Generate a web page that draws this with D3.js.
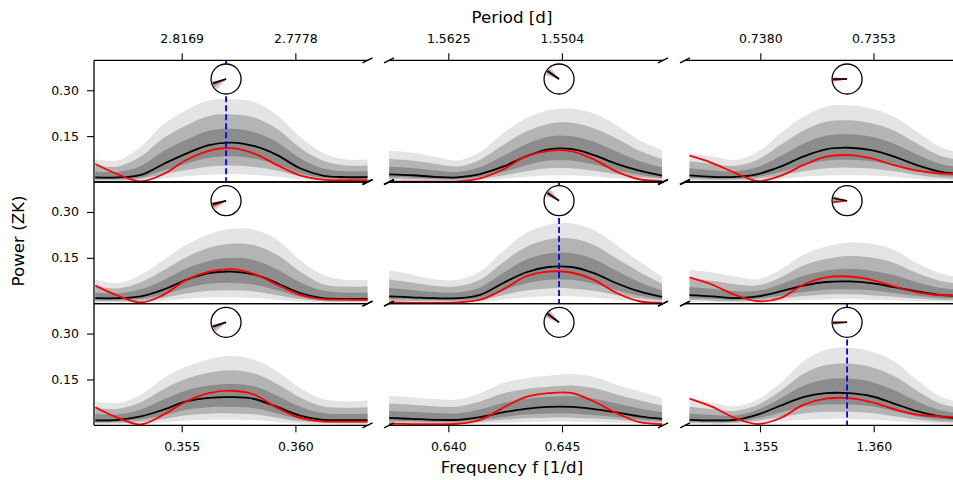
<!DOCTYPE html>
<html>
<head>
<meta charset="utf-8">
<script src="https://cdn.jsdelivr.net/npm/d3@7"></script>
<style>
  body { margin: 0; background: #fff; }
  svg { display: block; }
  text { font-family: "DejaVu Sans", sans-serif; fill: #000; }
</style>
</head>
<body>
<svg id="chart" width="953" height="480"></svg>
<script>
// Frequency grid [1/d] of each column (three zoomed windows around the candidate peaks)
const freqGrid = [
  [0.3512, 0.3522, 0.3532, 0.3542, 0.3552, 0.3562, 0.3572, 0.3582, 0.3592, 0.3602, 0.3612, 0.3622, 0.3632],
  [0.6374, 0.6384, 0.6394, 0.6404, 0.6414, 0.6424, 0.6434, 0.6444, 0.6454, 0.6464, 0.6474, 0.6484, 0.6494],
  [1.3519, 1.3529, 1.3539, 1.3549, 1.3559, 1.3569, 1.3579, 1.3589, 1.3599, 1.3609, 1.3619, 1.3629, 1.3639]
];
const xLimits = [[0.351143, 0.363170], [0.637392, 0.649441], [1.351702, 1.363751]];
const freqTicks = [[0.355, 0.360], [0.640, 0.645], [1.355, 1.360]];
const periodTicks = [[2.8169, 2.7778], [1.5625, 1.5504], [0.7380, 0.7353]];
const powerTicks = [0.15, 0.30];
const powerMax = 0.398;

// Peak frequency per column; which column is flagged (dashed) in each row
const peakFreq = [0.35695, 0.64487, 1.35883];
const flaggedCol = [0, 1, 2];

// Panels in reading order: row 1 (c1,c2,c3), row 2, row 3
const medianPower = [
  [0.015,0.015,0.023,0.059,0.093,0.121,0.129,0.117,0.088,0.045,0.021,0.016,0.016],
  [0.025,0.022,0.017,0.015,0.026,0.050,0.083,0.107,0.108,0.088,0.059,0.037,0.021],
  [0.022,0.017,0.017,0.026,0.050,0.083,0.107,0.112,0.104,0.083,0.055,0.034,0.026],
  [0.018,0.018,0.024,0.046,0.078,0.100,0.105,0.095,0.067,0.035,0.018,0.016,0.016],
  [0.024,0.021,0.018,0.018,0.029,0.067,0.102,0.120,0.120,0.100,0.067,0.040,0.022],
  [0.028,0.024,0.018,0.024,0.040,0.059,0.071,0.073,0.067,0.054,0.040,0.029,0.026],
  [0.016,0.018,0.029,0.051,0.078,0.090,0.092,0.086,0.060,0.032,0.018,0.017,0.017],
  [0.024,0.021,0.018,0.018,0.027,0.042,0.054,0.060,0.060,0.053,0.042,0.029,0.021],
  [0.018,0.016,0.018,0.035,0.064,0.092,0.105,0.105,0.095,0.071,0.046,0.029,0.022]
];
const observedPower = [
  [0.059,0.025,0.002,0.026,0.072,0.102,0.111,0.093,0.055,0.022,0.008,0.006,0.006],
  [0.001,0.001,0.001,0.002,0.012,0.041,0.083,0.102,0.101,0.074,0.034,0.009,0.003],
  [0.086,0.062,0.030,0.003,0.020,0.055,0.083,0.088,0.077,0.055,0.037,0.028,0.026],
  [0.059,0.026,0.004,0.029,0.078,0.105,0.113,0.097,0.062,0.029,0.015,0.013,0.013],
  [0.004,0.003,0.003,0.004,0.013,0.046,0.089,0.105,0.102,0.078,0.035,0.008,0.003],
  [0.086,0.062,0.029,0.008,0.018,0.062,0.086,0.089,0.078,0.057,0.037,0.028,0.026],
  [0.059,0.024,0.003,0.035,0.078,0.105,0.113,0.100,0.057,0.024,0.013,0.012,0.012],
  [0.005,0.004,0.004,0.005,0.018,0.057,0.092,0.105,0.106,0.078,0.040,0.010,0.004],
  [0.087,0.060,0.024,0.004,0.024,0.067,0.087,0.089,0.076,0.053,0.035,0.029,0.027]
];
// Simulated power quantile bands (outer / middle / inner)
const hi3 = [
  [0.074,0.070,0.115,0.189,0.235,0.267,0.271,0.262,0.218,0.148,0.096,0.074,0.074],
  [0.102,0.096,0.083,0.070,0.099,0.159,0.208,0.235,0.240,0.224,0.186,0.137,0.104],
  [0.093,0.083,0.072,0.099,0.159,0.213,0.246,0.251,0.240,0.213,0.164,0.115,0.093],
  [0.078,0.067,0.095,0.143,0.192,0.227,0.245,0.242,0.209,0.143,0.095,0.078,0.078],
  [0.109,0.095,0.080,0.078,0.105,0.171,0.230,0.258,0.263,0.241,0.192,0.138,0.089],
  [0.111,0.102,0.089,0.080,0.111,0.160,0.187,0.200,0.196,0.176,0.133,0.100,0.084],
  [0.078,0.073,0.100,0.154,0.192,0.216,0.227,0.214,0.176,0.122,0.086,0.078,0.082],
  [0.097,0.092,0.086,0.084,0.105,0.138,0.154,0.162,0.168,0.158,0.133,0.111,0.089],
  [0.084,0.073,0.062,0.084,0.138,0.209,0.247,0.254,0.241,0.209,0.149,0.095,0.073]
];
const hi2 = [
  [0.053,0.051,0.083,0.144,0.185,0.216,0.221,0.211,0.173,0.112,0.070,0.054,0.054],
  [0.075,0.070,0.060,0.051,0.073,0.121,0.164,0.190,0.194,0.176,0.142,0.102,0.075],
  [0.068,0.060,0.053,0.073,0.121,0.168,0.197,0.202,0.192,0.168,0.126,0.087,0.070],
  [0.057,0.050,0.070,0.109,0.152,0.183,0.196,0.191,0.159,0.105,0.064,0.056,0.056],
  [0.079,0.069,0.058,0.057,0.078,0.135,0.185,0.210,0.213,0.192,0.148,0.104,0.066],
  [0.082,0.075,0.064,0.060,0.086,0.125,0.146,0.156,0.151,0.133,0.100,0.075,0.064],
  [0.056,0.054,0.075,0.118,0.152,0.172,0.180,0.169,0.135,0.091,0.062,0.057,0.059],
  [0.071,0.067,0.062,0.061,0.078,0.104,0.119,0.126,0.130,0.121,0.101,0.082,0.065],
  [0.061,0.053,0.047,0.067,0.112,0.168,0.197,0.202,0.190,0.161,0.113,0.072,0.055]
];
const hi1 = [
  [0.034,0.033,0.052,0.101,0.138,0.168,0.174,0.163,0.130,0.078,0.045,0.035,0.035],
  [0.050,0.046,0.038,0.033,0.049,0.085,0.123,0.148,0.150,0.132,0.100,0.069,0.048],
  [0.045,0.038,0.035,0.049,0.085,0.125,0.151,0.156,0.148,0.125,0.090,0.060,0.047],
  [0.037,0.034,0.047,0.077,0.115,0.140,0.150,0.142,0.112,0.070,0.043,0.036,0.036],
  [0.051,0.045,0.038,0.037,0.053,0.100,0.143,0.164,0.166,0.145,0.107,0.071,0.043],
  [0.055,0.049,0.041,0.042,0.063,0.091,0.108,0.114,0.108,0.093,0.070,0.052,0.045],
  [0.036,0.036,0.052,0.084,0.114,0.130,0.135,0.127,0.097,0.061,0.040,0.037,0.038],
  [0.047,0.044,0.040,0.039,0.052,0.073,0.086,0.093,0.095,0.087,0.071,0.055,0.043],
  [0.039,0.034,0.032,0.051,0.088,0.129,0.150,0.153,0.142,0.115,0.079,0.050,0.038]
];
const lo1 = [
  [0.010,0.010,0.015,0.038,0.060,0.079,0.084,0.076,0.057,0.029,0.014,0.010,0.010],
  [0.016,0.014,0.011,0.010,0.017,0.033,0.054,0.070,0.070,0.057,0.038,0.024,0.014],
  [0.014,0.011,0.011,0.017,0.033,0.054,0.070,0.073,0.068,0.054,0.036,0.022,0.017],
  [0.012,0.012,0.016,0.030,0.051,0.065,0.068,0.062,0.044,0.023,0.012,0.010,0.010],
  [0.016,0.014,0.012,0.012,0.019,0.044,0.066,0.078,0.078,0.065,0.044,0.026,0.014],
  [0.018,0.016,0.012,0.016,0.026,0.038,0.046,0.047,0.044,0.035,0.026,0.019,0.017],
  [0.010,0.012,0.019,0.033,0.051,0.059,0.060,0.056,0.039,0.021,0.012,0.011,0.011],
  [0.016,0.014,0.012,0.012,0.018,0.027,0.035,0.039,0.039,0.034,0.027,0.019,0.014],
  [0.012,0.010,0.012,0.023,0.042,0.060,0.068,0.068,0.062,0.046,0.030,0.019,0.014]
];
const lo2 = [
  [0.006,0.006,0.010,0.025,0.039,0.051,0.054,0.049,0.037,0.019,0.009,0.007,0.007],
  [0.011,0.009,0.007,0.006,0.011,0.021,0.035,0.045,0.045,0.037,0.025,0.016,0.009],
  [0.009,0.007,0.007,0.011,0.021,0.035,0.045,0.047,0.044,0.035,0.023,0.014,0.011],
  [0.008,0.008,0.010,0.019,0.033,0.042,0.044,0.040,0.028,0.015,0.008,0.007,0.007],
  [0.010,0.009,0.008,0.008,0.012,0.028,0.043,0.050,0.050,0.042,0.028,0.017,0.009],
  [0.012,0.010,0.008,0.010,0.017,0.025,0.030,0.031,0.028,0.023,0.017,0.012,0.011],
  [0.007,0.008,0.012,0.021,0.033,0.038,0.039,0.036,0.025,0.013,0.008,0.007,0.007],
  [0.010,0.009,0.008,0.008,0.011,0.018,0.023,0.025,0.025,0.022,0.018,0.012,0.009],
  [0.008,0.007,0.008,0.015,0.027,0.039,0.044,0.044,0.040,0.030,0.019,0.012,0.009]
];
const lo3 = [
  [0.003,0.003,0.005,0.012,0.019,0.024,0.026,0.023,0.018,0.009,0.004,0.003,0.003],
  [0.005,0.004,0.003,0.003,0.005,0.010,0.017,0.021,0.022,0.018,0.012,0.007,0.004],
  [0.004,0.003,0.003,0.005,0.010,0.017,0.021,0.022,0.021,0.017,0.011,0.007,0.005],
  [0.004,0.004,0.005,0.009,0.016,0.020,0.021,0.019,0.013,0.007,0.004,0.003,0.003],
  [0.005,0.004,0.004,0.004,0.006,0.013,0.020,0.024,0.024,0.020,0.013,0.008,0.004],
  [0.006,0.005,0.004,0.005,0.008,0.012,0.014,0.015,0.013,0.011,0.008,0.006,0.005],
  [0.003,0.004,0.006,0.010,0.016,0.018,0.018,0.017,0.012,0.006,0.004,0.003,0.003],
  [0.005,0.004,0.004,0.004,0.005,0.008,0.011,0.012,0.012,0.011,0.008,0.006,0.004],
  [0.004,0.003,0.004,0.007,0.013,0.018,0.021,0.021,0.019,0.014,0.009,0.006,0.004]
];

// Phase dials (degrees, counter-clockwise from +x)
const phaseMedian   = [198, 145, 180, 193, 146, 170, 197, 143, 181];
const phaseObserved = [201, 147, 184, 200, 148, 186, 200, 145, 184];
const phaseOuter = [[188,230],[125,165],[170,193],[186,222],[125,162],[158,194],[188,226],[126,163],[173,193]];
const phaseInner = [[192,216],[135,157],[175,188],[189,210],[134,156],[163,188],[192,214],[133,156],[176,189]];

// ---- layout ----
const colLeft = [94, 389, 685];
const colWidth = [273.5, 274, 274];
const rowTop = [60.3, 182, 303.6];
const rowHeight = 121.7;
const bandColors = ["#e4e4e4", "#b4b4b4", "#8c8c8c"];
const tickFont = 12.5, labelFont = 16.67;

const svg = d3.select("#chart");
const defs = svg.append("defs");
const y = d3.scaleLinear().domain([0, powerMax]).range([rowHeight, 0]);
const smooth = d3.curveCatmullRom.alpha(0.5);

function styleAxis(g) {
  g.select(".domain").remove();
  g.selectAll("line").attr("stroke", "#000").attr("stroke-width", 1.1);
  g.selectAll("text").attr("font-size", tickFont).attr("font-family", "DejaVu Sans, sans-serif").attr("fill", "#000");
}

for (let r = 0; r < 3; r++) {
  for (let c = 0; c < 3; c++) {
    const p = r * 3 + c;
    const w = colWidth[c];
    const x = d3.scaleLinear().domain(xLimits[c]).range([0, w]);
    const f = freqGrid[c];
    const g = svg.append("g").attr("transform", `translate(${colLeft[c]},${rowTop[r]})`);

    defs.append("clipPath").attr("id", "clip" + p)
      .append("rect").attr("x", 0).attr("y", 0).attr("width", w).attr("height", rowHeight);
    const plot = g.append("g").attr("clip-path", `url(#clip${p})`);

    const band = (lo, hi) => d3.area()
      .x((d, i) => x(f[i])).y0((d, i) => y(lo[i])).y1((d, i) => y(hi[i]))
      .curve(smooth);
    const curve = vals => d3.line()
      .x((d, i) => x(f[i])).y((d, i) => y(vals[i]))
      .curve(smooth);

    plot.append("path").datum(f).attr("d", band(lo3[p], hi3[p])).attr("fill", bandColors[0]);
    plot.append("path").datum(f).attr("d", band(lo2[p], hi2[p])).attr("fill", bandColors[1]);
    plot.append("path").datum(f).attr("d", band(lo1[p], hi1[p])).attr("fill", bandColors[2]);
    plot.append("path").datum(f).attr("d", curve(medianPower[p]))
      .attr("fill", "none").attr("stroke", "#000").attr("stroke-width", 1.8);
    plot.append("path").datum(f).attr("d", curve(observedPower[p]))
      .attr("fill", "none").attr("stroke", "#ff0000").attr("stroke-width", 1.8);

    const px = x(peakFreq[c]);
    if (flaggedCol[r] === c) {
      plot.append("line").attr("x1", px).attr("x2", px).attr("y1", 0).attr("y2", rowHeight)
        .attr("stroke", "#0000ff").attr("stroke-width", 1.8).attr("stroke-dasharray", "6,3");
    }

    // phase dial
    const cy = 18.7, rad = 15;
    const dial = g.append("g").attr("transform", `translate(${px},${cy})`);
    dial.append("circle").attr("r", rad).attr("fill", "#fff");
    const toArc = (a0, a1, col) => dial.append("path")
      .attr("d", d3.arc().innerRadius(0).outerRadius(rad - 1)
        .startAngle((90 - a1) * Math.PI / 180).endAngle((90 - a0) * Math.PI / 180)())
      .attr("fill", col);
    toArc(phaseOuter[p][0], phaseOuter[p][1], "#d6d6d6");
    toArc(phaseInner[p][0], phaseInner[p][1], "#a8a8a8");
    const ray = (deg, col, sw) => dial.append("line")
      .attr("x1", 0).attr("y1", 0)
      .attr("x2", (rad - 1) * Math.cos(deg * Math.PI / 180))
      .attr("y2", -(rad - 1) * Math.sin(deg * Math.PI / 180))
      .attr("stroke", col).attr("stroke-width", sw);
    ray(phaseObserved[p], "#ff0000", 1.6);
    ray(phaseMedian[p], "#000", 1.6);
    dial.append("circle").attr("r", rad).attr("fill", "none").attr("stroke", "#000").attr("stroke-width", 1.3);

    // spines
    const spine = (x1, y1, x2, y2) => g.append("line").attr("x1", x1).attr("y1", y1).attr("x2", x2).attr("y2", y2)
      .attr("stroke", "#000").attr("stroke-width", 1.3);
    spine(0, 0, w, 0);
    spine(0, rowHeight, w, rowHeight);
    if (c === 0) spine(0, 0, 0, rowHeight);

    // break marks on the cut edges
    const cuts = [];
    if (c > 0) cuts.push(0);
    if (c < 2) cuts.push(w);
    cuts.forEach(cx => [0, rowHeight].forEach(cyy => {
      g.append("line").attr("x1", cx - 5).attr("y1", cyy + 2.5).attr("x2", cx + 5).attr("y2", cyy - 2.5)
        .attr("stroke", "#000").attr("stroke-width", 1.5);
    }));

    // axes
    if (c === 0) {
      g.append("g").call(d3.axisLeft(y).tickValues(powerTicks).tickFormat(d3.format(".2f"))
        .tickSize(7).tickSizeOuter(0).tickPadding(8)).call(styleAxis);
    }
    if (r === 0) {
      const pt = periodTicks[c];
      g.append("g").call(d3.axisTop(x).tickValues(pt.map(v => 1 / v))
        .tickFormat((d, i) => pt[i].toFixed(4)).tickSize(7).tickSizeOuter(0).tickPadding(10)).call(styleAxis);
    }
    if (r === 2) {
      g.append("g").attr("transform", `translate(0,${rowHeight})`)
        .call(d3.axisBottom(x).tickValues(freqTicks[c]).tickFormat(d3.format(".3f"))
          .tickSize(7).tickSizeOuter(0).tickPadding(9.5)).call(styleAxis);
    }
  }
}

// axis titles
svg.append("text").attr("x", 512).attr("y", 23).attr("text-anchor", "middle")
  .attr("font-size", labelFont).text("Period [d]");
svg.append("text").attr("x", 512).attr("y", 473).attr("text-anchor", "middle")
  .attr("font-size", labelFont).text("Frequency f [1/d]");
svg.append("text").attr("transform", "translate(24,241) rotate(-90)").attr("text-anchor", "middle")
  .attr("font-size", labelFont).text("Power (ZK)");
</script>
</body>
</html>
